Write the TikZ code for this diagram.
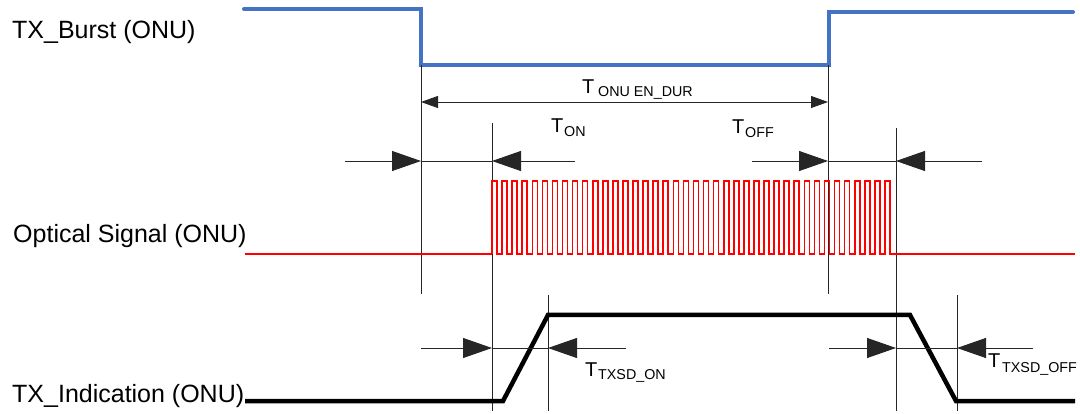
\documentclass[tikz,border=0pt]{standalone}
\usepackage{fontspec}
\setmainfont{Liberation Sans}
\usetikzlibrary{arrows.meta}
\definecolor{burstblue}{RGB}{68,114,196}
\definecolor{sigred}{RGB}{255,0,0}
\begin{document}
\begin{tikzpicture}[x=1pt,y=-1pt,
  guide/.style={draw=black!85,line width=0.9pt},
  bigtip/.style={-{Triangle[length=29pt,width=20pt]}},
  dimarrow/.style={guide,{Triangle[length=17pt,width=12pt]}-{Triangle[length=17pt,width=12pt]}},
  lbl/.style={font=\fontsize{25}{29}\selectfont,anchor=base west,inner sep=0pt},
  tmain/.style={font=\fontsize{20}{24}\selectfont,anchor=base west,inner sep=0pt},
  tsub/.style={font=\fontsize{14.3}{17}\selectfont,anchor=base west,inner sep=0pt},
  burst/.style={line width=4pt,draw=burstblue,line cap=round},
  optline/.style={line width=2.4pt,draw=sigred},
  pulse/.style={line width=1.6pt,draw=sigred},
  indic/.style={line width=4.5pt,draw=black}]
\useasboundingbox (0,0) rectangle (1080,414);

% key positions
\coordinate (xA) at (421,0);
\coordinate (xB) at (492,0);
\coordinate (xC) at (548,0);
\coordinate (xD) at (828,0);
\coordinate (xE) at (896,0);
\coordinate (xF) at (957,0);

% labels
\node[lbl] (lburst) at (12,39) {TX\_Burst (ONU)};
\node[lbl] (lopt) at (13,243) {Optical Signal (ONU)};
\node[lbl] (lind) at (12,402) {TX\_Indication (ONU)};

% TX burst
\draw[burst] (244,9) -- (421,9) -- (421,65) -- (829,65) -- (829,12) -- (1073,12);

% guide verticals
\draw[guide] (421,65) -- (421,294);
\draw[guide] (828,65) -- (828,294);
\draw[guide] (492,123) -- (492,411);
\draw[guide] (896,128) -- (896,411);
\draw[guide] (548,295) -- (548,411);
\draw[guide] (957,295) -- (957,411);

% T ONU EN_DUR
\coordinate (durL) at (421,102);
\coordinate (durR) at (828,102);
\draw[dimarrow] (durL) -- (durR);
\node[tmain] (tdur) at (582,94) {T};
\node[tsub] (tdursub) at (598,97) {ONU EN\_DUR};

% T_ON / T_OFF arrows
\coordinate (onL) at (345,161);
\coordinate (onA) at (421,161);
\coordinate (onB) at (492,161);
\coordinate (onR) at (575,161);
\draw[guide] (onA) -- (onB);
\draw[guide,bigtip] (onL) -- (onA);
\draw[guide,bigtip] (onR) -- (onB);
\node[tmain] (ton) at (551,133) {T};
\node[tsub] (tonsub) at (564,137) {ON};

\coordinate (offL) at (752,161);
\coordinate (offA) at (828,161);
\coordinate (offB) at (896,161);
\coordinate (offR) at (982,161);
\draw[guide] (offA) -- (offB);
\draw[guide,bigtip] (offL) -- (offA);
\draw[guide,bigtip] (offR) -- (offB);
\node[tmain] (toff) at (732,134) {T};
\node[tsub] (toffsub) at (745,138) {OFF};

% optical signal
\draw[optline] (245,254) -- (492,254);
\draw[pulse] (492,254) \foreach \i in {1,...,40} { -- ++(0,-73) -- ++(5,0) -- ++(0,73) -- ++(5.075,0) };
\draw[optline] (895,254) -- (1075,254);

% TX indication
\draw[indic] (245,401) -- (503,401) -- (548,315) -- (910,315) -- (956,401) -- (1075,401);

% TXSD arrows
\coordinate (sonL) at (421,348);
\coordinate (sonA) at (492,348);
\coordinate (sonB) at (548,348);
\coordinate (sonR) at (626,348);
\draw[guide] (sonA) -- (sonB);
\draw[guide,bigtip] (sonL) -- (sonA);
\draw[guide,bigtip] (sonR) -- (sonB);
\node[tmain] (tson) at (585,377) {T};
\node[tsub] (tsonsub) at (598,380) {TXSD\_ON};

\coordinate (soffL) at (829,348);
\coordinate (soffA) at (896,348);
\coordinate (soffB) at (957,348);
\coordinate (soffR) at (1033,348);
\draw[guide] (soffA) -- (soffB);
\draw[guide,bigtip] (soffL) -- (soffA);
\draw[guide,bigtip] (soffR) -- (soffB);
\node[tmain] (tsoff) at (988,367) {T};
\node[tsub] (tsoffsub) at (1002,372) {TXSD\_OFF};
\end{tikzpicture}
\end{document}
